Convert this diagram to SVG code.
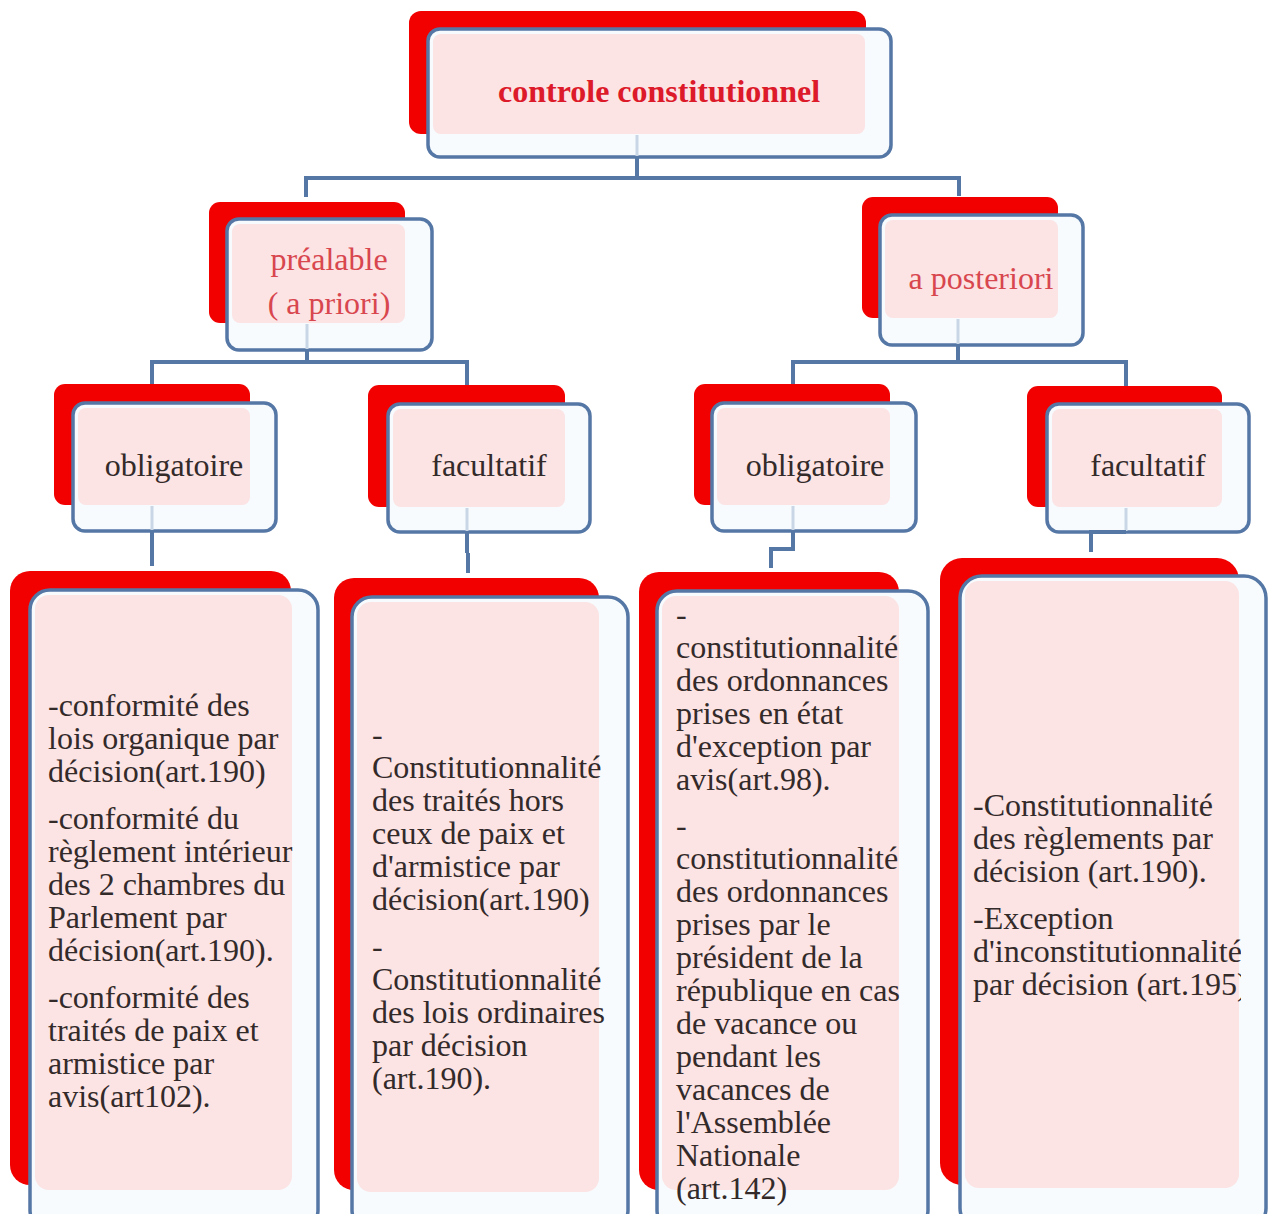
<svg xmlns="http://www.w3.org/2000/svg" width="1268" height="1214" viewBox="0 0 1268 1214">
<defs>
<style>
.red{fill:#f20000;}
.front{fill:#f7fbfd;stroke:#5577a6;stroke-width:3.5;}
.pink{fill:#fce3e4;}
.t{font-family:'Liberation Serif','DejaVu Serif',serif;font-size:32px;fill:#332a2a;}
.c{text-anchor:middle;}
.title{font-weight:bold;fill:#dc1a2a;}
.sub{fill:#d8464e;}
.conn{fill:none;stroke:#5577a6;stroke-width:4;}
.faint{fill:none;stroke:#c9d6e6;stroke-width:3;}
</style>
<clipPath id="clipD"><rect x="960" y="576" width="281" height="636"/></clipPath>
</defs>
<rect width="1268" height="1214" fill="#ffffff"/>

<g id="n-root">
<rect class="red" x="409" y="11" width="457" height="123" rx="12"/>
<rect class="front" x="428" y="29" width="463" height="128" rx="12"/>
<rect class="pink" x="433" y="34" width="432" height="100" rx="8"/>
<text class="t c title" x="659" y="102">controle constitutionnel</text>
</g>

<g id="n-prealable">
<rect class="red" x="209" y="202" width="196" height="121" rx="11"/>
<rect class="front" x="227" y="219" width="205" height="131" rx="12"/>
<rect class="pink" x="232" y="224" width="173" height="99" rx="8"/>
<text class="t c sub" x="329" y="270">préalable</text>
<text class="t c sub" x="329" y="314">( a priori)</text>
</g>

<g id="n-posteriori">
<rect class="red" x="862" y="197" width="196" height="121" rx="11"/>
<rect class="front" x="880" y="215" width="203" height="130" rx="12"/>
<rect class="pink" x="885" y="220" width="173" height="98" rx="8"/>
<text class="t c sub" x="981" y="289">a posteriori</text>
</g>

<g id="n-oblig-left">
<rect class="red" x="54" y="384" width="196" height="121" rx="11"/>
<rect class="front" x="73" y="403" width="203" height="128" rx="12"/>
<rect class="pink" x="78" y="408" width="172" height="97" rx="8"/>
<text class="t c" x="174" y="476">obligatoire</text>
</g>

<g id="n-facult-left">
<rect class="red" x="368" y="385" width="197" height="122" rx="11"/>
<rect class="front" x="388" y="404" width="202" height="128" rx="12"/>
<rect class="pink" x="393" y="409" width="172" height="98" rx="8"/>
<text class="t c" x="489" y="476">facultatif</text>
</g>

<g id="n-oblig-right">
<rect class="red" x="694" y="384" width="196" height="121" rx="11"/>
<rect class="front" x="712" y="403" width="204" height="128" rx="12"/>
<rect class="pink" x="717" y="408" width="173" height="97" rx="8"/>
<text class="t c" x="815" y="476">obligatoire</text>
</g>

<g id="n-facult-right">
<rect class="red" x="1027" y="386" width="195" height="121" rx="11"/>
<rect class="front" x="1047" y="404" width="202" height="128" rx="12"/>
<rect class="pink" x="1052" y="409" width="170" height="98" rx="8"/>
<text class="t c" x="1148" y="476">facultatif</text>
</g>

<g id="n-boxA">
<rect class="red" x="10" y="571" width="281" height="614" rx="20"/>
<rect class="front" x="30" y="590" width="288" height="640" rx="20"/>
<rect class="pink" x="35" y="595" width="257" height="595" rx="14"/>
<text class="t">
<tspan x="48" y="716">-conformité des</tspan>
<tspan x="48" y="749">lois organique par</tspan>
<tspan x="48" y="782">décision(art.190)</tspan>
<tspan x="48" y="829">-conformité du</tspan>
<tspan x="48" y="862">règlement intérieur</tspan>
<tspan x="48" y="895">des 2 chambres du</tspan>
<tspan x="48" y="928">Parlement par</tspan>
<tspan x="48" y="961">décision(art.190).</tspan>
<tspan x="48" y="1008">-conformité des</tspan>
<tspan x="48" y="1041">traités de paix et</tspan>
<tspan x="48" y="1074">armistice par</tspan>
<tspan x="48" y="1107">avis(art102).</tspan>
</text>
</g>

<g id="n-boxB">
<rect class="red" x="334" y="578" width="265" height="612" rx="20"/>
<rect class="front" x="352" y="597" width="276" height="633" rx="20"/>
<rect class="pink" x="357" y="602" width="242" height="590" rx="14"/>
<text class="t">
<tspan x="372" y="745">-</tspan>
<tspan x="372" y="778">Constitutionnalité</tspan>
<tspan x="372" y="811">des traités hors</tspan>
<tspan x="372" y="844">ceux  de paix et</tspan>
<tspan x="372" y="877">d'armistice par</tspan>
<tspan x="372" y="910">décision(art.190)</tspan>
<tspan x="372" y="957">-</tspan>
<tspan x="372" y="990">Constitutionnalité</tspan>
<tspan x="372" y="1023">des lois ordinaires</tspan>
<tspan x="372" y="1056">par décision</tspan>
<tspan x="372" y="1089">(art.190).</tspan>
</text>
</g>

<g id="n-boxC">
<rect class="red" x="639" y="572" width="260" height="618" rx="20"/>
<rect class="front" x="657" y="591" width="271" height="639" rx="20"/>
<rect class="pink" x="662" y="596" width="237" height="594" rx="14"/>
<text class="t">
<tspan x="676" y="625">-</tspan>
<tspan x="676" y="658">constitutionnalité</tspan>
<tspan x="676" y="691">des ordonnances</tspan>
<tspan x="676" y="724">prises en état</tspan>
<tspan x="676" y="757">d'exception par</tspan>
<tspan x="676" y="790">avis(art.98).</tspan>
<tspan x="676" y="836">-</tspan>
<tspan x="676" y="869">constitutionnalité</tspan>
<tspan x="676" y="902">des ordonnances</tspan>
<tspan x="676" y="935">prises par le</tspan>
<tspan x="676" y="968">président de la</tspan>
<tspan x="676" y="1001">république en cas</tspan>
<tspan x="676" y="1034">de vacance ou</tspan>
<tspan x="676" y="1067">pendant les</tspan>
<tspan x="676" y="1100">vacances de</tspan>
<tspan x="676" y="1133">l'Assemblée</tspan>
<tspan x="676" y="1166">Nationale</tspan>
<tspan x="676" y="1199">(art.142)</tspan>
</text>
</g>

<g id="n-boxD">
<rect class="red" x="940" y="558" width="299" height="627" rx="22"/>
<rect class="front" x="960" y="576" width="306" height="654" rx="22"/>
<rect class="pink" x="965" y="581" width="274" height="607" rx="14"/>
<text class="t" clip-path="url(#clipD)">
<tspan x="973" y="816">-Constitutionnalité</tspan>
<tspan x="973" y="849">des règlements par</tspan>
<tspan x="973" y="882">décision (art.190).</tspan>
<tspan x="973" y="929">-Exception</tspan>
<tspan x="973" y="962">d'inconstitutionnalité</tspan>
<tspan x="973" y="995">par décision (art.195)</tspan>
</text>
</g>

<g id="connectors">
<path class="faint" d="M637 135 V156 M307 324 V349 M958 319 V344 M152 506 V530 M467 508 V531 M793 506 V530 M1126 508 V531"/>
<path class="conn" d="M637 157 V177 M306 197 V178 H959 V196"/>
<path class="conn" d="M307 350 V363 M152 384 V362 H467 V385"/>
<path class="conn" d="M958 345 V362 M793 384 V362 H1126 V386"/>
<path class="conn" d="M152 531 V566"/>
<path class="conn" d="M467 532 V553 M468 553 V573"/>
<path class="conn" d="M793 531 V549 H771 V568"/>
<path class="conn" d="M1126 532 H1091 V552"/>
</g>
</svg>
